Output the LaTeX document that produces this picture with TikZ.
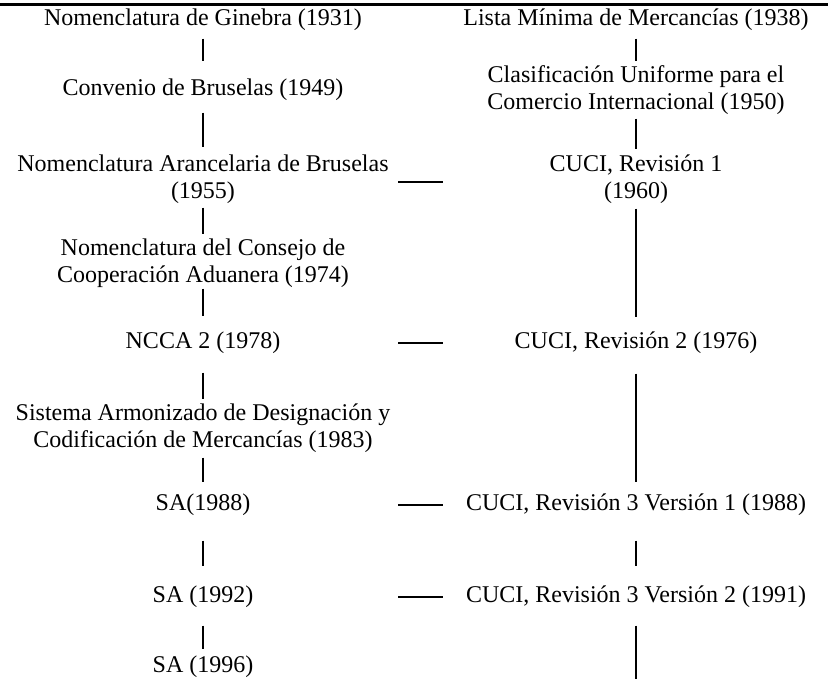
\documentclass[tikz,border=0pt]{standalone}
\usepackage{fontspec}
\setmainfont{Liberation Serif}
\begin{document}
\begin{tikzpicture}[
    x=1pt, y=-1pt,
    entry/.style={align=center, inner sep=0pt, font=\fontsize{24}{27}\selectfont},
    link/.style 2 args={line width=2pt, shorten <=#1pt, shorten >=#2pt},
    hlink/.style={line width=2pt}
]
    \useasboundingbox (0,0) rectangle (828,679);
    \draw[line width=2.4pt] (0,4.5) -- (828,4.5);

    % --- COLUMNA IZQUIERDA ---
    \node[entry] (ginebra) at (203,20) {Nomenclatura de Ginebra (1931)};
    \node[entry] (convenio) at (203,90) {Convenio de Bruselas (1949)};
    \node[entry] (arancel) at (203,179.5) {Nomenclatura Arancelaria de Bruselas\\(1955)};
    \node[entry] (consejo) at (203,263.5) {Nomenclatura del Consejo de\\Cooperación Aduanera (1974)};
    \node[entry] (ncca) at (203,343) {NCCA 2 (1978)};
    \node[entry] (sistema) at (203,428.5) {Sistema Armonizado de Designación y\\Codificación de Mercancías (1983)};
    \node[entry] (sa88) at (203,505) {SA(1988)};
    \node[entry] (sa92) at (203,597) {SA (1992)};
    \node[entry] (sa96) at (203,667) {SA (1996)};

    % --- COLUMNA DERECHA ---
    \node[entry] (lista) at (636,20) {Lista Mínima de Mercancías (1938)};
    \node[entry] (cuci) at (636,90) {Clasificación Uniforme para el\\Comercio Internacional (1950)};
    \node[entry] (cuci1) at (636,179.5) {CUCI, Revisión 1\\(1960)};
    \node[entry] (cuci2) at (636,343) {CUCI, Revisión 2 (1976)};
    \node[entry] (cuci31) at (636,505) {CUCI, Revisión 3 Versión 1 (1988)};
    \node[entry] (cuci32) at (636,597) {CUCI, Revisión 3 Versión 2 (1991)};
    \coordinate (fin) at (636,679);

    % extremos de los enlaces horizontales
    \coordinate (hl) at (398,0);
    \coordinate (hr) at (443,0);

    % --- ENLACES ---
    \draw[link={7.5}{17.5}] (ginebra) -- (convenio);
    \draw[link={11.5}{7.5}] (convenio) -- (arancel);
    \draw[link={3.5}{4.5}] (arancel) -- (consejo);
    \draw[link={0.5}{15.5}] (consejo) -- (ncca);
    \draw[link={18.5}{4.5}] (ncca) -- (sistema);
    \draw[link={4.5}{11.5}] (sistema) -- (sa88);
    \draw[link={24.5}{19.5}] (sa88) -- (sa92);
    \draw[link={17.5}{6.5}] (sa92) -- (sa96);

    \draw[link={7.5}{4}] (lista) -- (cuci);
    \draw[link={4}{5.5}] (cuci) -- (cuci1);
    \draw[link={4.5}{14.5}] (cuci1) -- (cuci2);
    \draw[link={19.5}{11.5}] (cuci2) -- (cuci31);
    \draw[link={24.5}{19.5}] (cuci31) -- (cuci32);
    \draw[link={17.5}{0}] (cuci32) -- (fin);

    \draw[hlink] ([yshift=-2.5pt]arancel -| hl) -- ([yshift=-2.5pt]arancel -| hr);
    \draw[hlink] (ncca -| hl) -- (ncca -| hr);
    \draw[hlink] (sa88 -| hl) -- (sa88 -| hr);
    \draw[hlink] (sa92 -| hl) -- (sa92 -| hr);

\end{tikzpicture}
\end{document}
